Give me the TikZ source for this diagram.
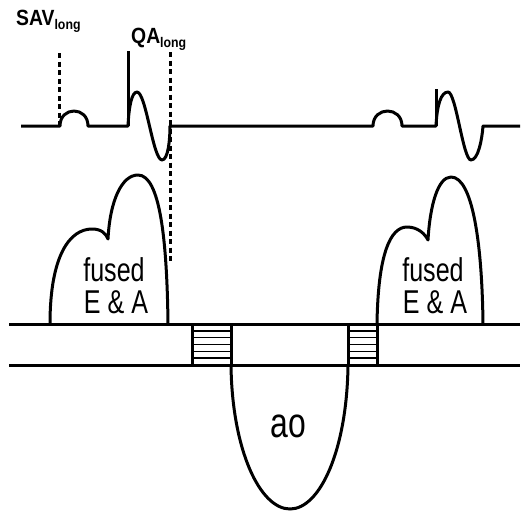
\documentclass[tikz,border=0pt]{standalone}
\usepackage{fontspec}
\usepackage{tikz}
\newfontfamily\condsans[FakeStretch=0.76]{Liberation Sans}
\newfontfamily\labsans[FakeStretch=0.88]{Liberation Sans}
\newcommand{\lng}{\raisebox{-4pt}{\fontsize{14}{14}\selectfont long}}

\begin{document}
\begin{tikzpicture}[x=1pt, y=-1pt,
	wave/.style={line width=3pt, line join=round},
	marker/.style={line width=3pt, dash pattern=on 5pt off 3.5pt},
	stripe/.style={line width=1.6pt},
	every node/.style={inner sep=0pt, font=\condsans\fontsize{33}{33}\selectfont}]
	\useasboundingbox (0,0) rectangle (526,512);
	% ecg trace
	\draw[marker] (59,53) -- (59,126);
	\draw[marker] (170,52) -- (170,262);
	\draw[wave] (21,126) -- (60,126) .. controls (60,106) and (88,106) .. (88,126) -- (128,126)
		.. controls (129,105) and (132,92) .. (137,92) .. controls (146,92) and (153,160) .. (162,160)
		.. controls (168,160) and (170,140) .. (170,126) -- (373,126)
		.. controls (373,106) and (402,106) .. (402,126) -- (436,126)
		.. controls (437,105) and (441,92) .. (448,92) .. controls (456,92) and (463,160) .. (471,160)
		.. controls (478,160) and (482,140) .. (483,126) -- (520,126);
	\draw[wave] (128,51) -- (128,126);
	\draw[wave] (436,89) -- (436,126);
	\node[anchor=base west, font=\labsans\bfseries\fontsize{22}{22}\selectfont] (sav) at (16,25) {SAV\lng};
	\node[anchor=base west, font=\labsans\bfseries\fontsize{22}{22}\selectfont] (qa) at (131,43) {QA\lng};
	% mitral inflow
	\draw[wave] (50,324) .. controls (50,255) and (70,229) .. (92,229) .. controls (102,229) and (106,234) .. (108,239)
		.. controls (110,200) and (122,175) .. (138,175) .. controls (160,175) and (167,240) .. (168,324);
	\draw[wave] (377,324) .. controls (378,255) and (390,227) .. (407,227) .. controls (418,227) and (425,234) .. (428,240)
		.. controls (430,205) and (438,177) .. (451,177) .. controls (472,177) and (482,240) .. (483,324);
	\node[anchor=base] (fusedL) at (114,281) {fused};
	\node[anchor=base] (eaL) at (116,313) {E \& A};
	\node[anchor=base] (fusedR) at (433,281) {fused};
	\node[anchor=base] (eaR) at (435,313) {E \& A};
	% baseline and valve clicks
	\draw[wave] (9,324) -- (520,324);
	\draw[wave] (9,365) -- (520,365);
	\draw[wave] (192,324) -- (192,365) (231,324) -- (231,365);
	\draw[wave] (348,324) -- (348,365) (377,324) -- (377,365);
	\foreach \k in {1,...,5} {
		\draw[stripe] (192,324+\k*6.83) -- (231,324+\k*6.83);
		\draw[stripe] (348,324+\k*6.83) -- (377,324+\k*6.83);
	}
	% aortic outflow
	\draw[wave] (231,365) .. controls (232,450) and (260,509) .. (290,509)
		.. controls (320,509) and (347,450) .. (348,365);
	\node[anchor=base, font=\condsans\fontsize{42}{42}\selectfont] (ao) at (288,437) {ao};
\end{tikzpicture}
\end{document}
